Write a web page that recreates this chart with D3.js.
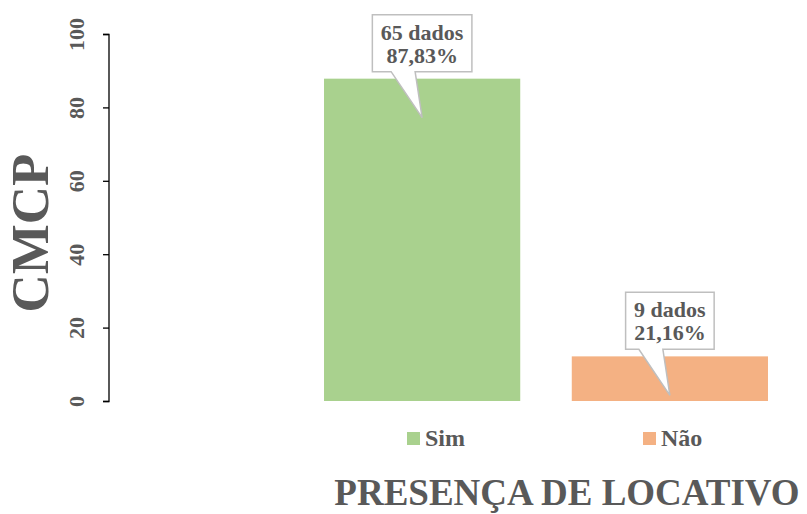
<!DOCTYPE html>
<html>
<head>
<meta charset="utf-8">
<script src="https://cdn.jsdelivr.net/npm/d3@7/dist/d3.min.js"></script>
<style>
  html, body { margin: 0; padding: 0; background: #fff; }
  svg { display: block; }
  text { font-family: "Liberation Serif", "Times New Roman", serif; font-weight: bold; fill: #595959; }
</style>
</head>
<body>
<svg id="chart" width="807" height="514"></svg>
<script>
// Categories, values and labels
const categories = ["Sim", "Não"];
const percentages = [87.83, 12.16];
const counts = [65, 9];
const percentLabels = ["87,83%", "21,16%"];
const colors = ["#a9d18e", "#f4b183"];
const yTicks = [0, 20, 40, 60, 80, 100];
const yTitle = "CMCP";
const xTitle = "PRESENÇA DE LOCATIVO";

const svg = d3.select("#chart");

const y = d3.scaleLinear().domain([0, 100]).range([401, 34]);
const x = d3.scaleBand().domain(categories)
  .range([298.25, 793.75]).paddingInner(0.208).paddingOuter(0.104);

// Y axis
const yAxis = d3.axisLeft(y).tickValues(yTicks).tickSize(6).tickPadding(0).tickFormat(d3.format("d"));
const gy = svg.append("g").attr("transform", "translate(109,0)").call(yAxis);
gy.select(".domain").attr("stroke", "#000").attr("stroke-width", 1.3).attr("d", "M-6,34.5H0V401.5H-6");
gy.selectAll(".tick line").attr("stroke", "#000").attr("stroke-width", 1.3);
gy.selectAll(".tick text")
  .attr("x", 0).attr("text-anchor", "middle")
  .attr("transform", "translate(-33,0) rotate(-90)")
  .attr("dy", "0.35em")
  .style("font-size", "22px").style("font-family", "Liberation Serif, serif").style("font-weight", "bold")
  .attr("fill", "#595959");

// Y title
svg.append("text")
  .attr("transform", "translate(48,233) rotate(-90)")
  .attr("text-anchor", "middle")
  .style("font-size", "53px")
  .text(yTitle);

// Bars
svg.append("g").selectAll("rect")
  .data(categories)
  .join("rect")
  .attr("x", d => x(d))
  .attr("width", x.bandwidth())
  .attr("y", (d, i) => y(percentages[i]))
  .attr("height", (d, i) => y(0) - y(percentages[i]))
  .attr("fill", (d, i) => colors[i]);

// Callout labels
const callouts = svg.append("g");
categories.forEach((c, i) => {
  const cx = x(c) + x.bandwidth() / 2;
  const top = y(percentages[i]);
  const tipY = top + 39;
  const boxBottom = top - 7;
  const boxTop = boxBottom - 57;
  const g = callouts.append("g");
  const path = g.append("path");
  const t1 = g.append("text").attr("x", cx).attr("y", boxTop + 25).attr("text-anchor", "middle")
    .style("font-size", "22px").text(counts[i] + " dados");
  const t2 = g.append("text").attr("x", cx).attr("y", boxTop + 48).attr("text-anchor", "middle")
    .style("font-size", "22px").text(percentLabels[i]);
  const w = Math.max(t1.node().getComputedTextLength(), t2.node().getComputedTextLength()) + 17;
  const l = cx - w / 2, r = cx + w / 2;
  path.attr("d", `M${l},${boxTop}H${r}V${boxBottom}H${cx - 7}L${cx},${tipY}L${cx - 31},${boxBottom}H${l}Z`)
    .attr("fill", "#fff").attr("stroke", "#bfbfbf").attr("stroke-width", 1.5);
  path.lower();
});

// Legend
const legendX = [407, 643];
const legend = svg.append("g");
categories.forEach((c, i) => {
  legend.append("rect").attr("x", legendX[i]).attr("y", 432).attr("width", 13).attr("height", 13).attr("fill", colors[i]);
  legend.append("text").attr("x", legendX[i] + 18).attr("y", 446).style("font-size", "24px").text(c);
});

// X title
svg.append("text")
  .attr("x", 567).attr("y", 505).attr("text-anchor", "middle")
  .style("font-size", "37px")
  .text(xTitle);
</script>
</body>
</html>
